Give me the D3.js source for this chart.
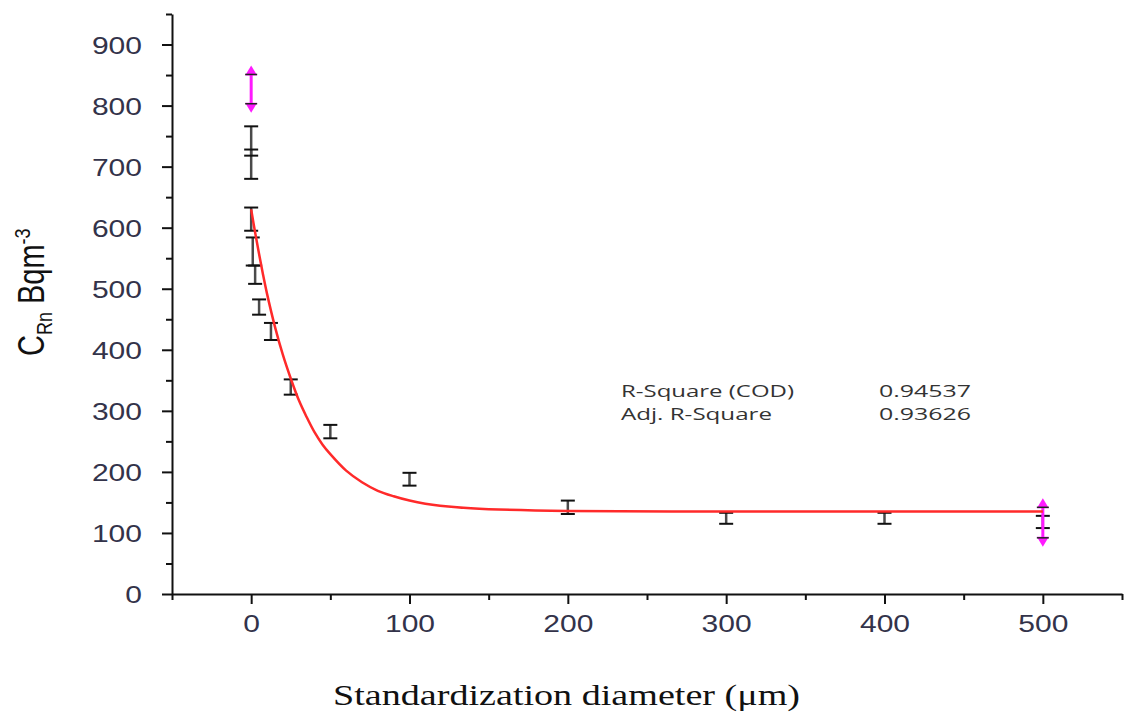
<!DOCTYPE html>
<html>
<head>
<meta charset="utf-8">
<script src="https://cdn.jsdelivr.net/npm/d3@7"></script>
<style>
  body { margin: 0; background: #fff; }
  svg { display: block; }
</style>
</head>
<body>
<svg></svg>
<script>
const width = 1124;
const height = 713;

// measured points, black error bars
const diameter = [0, 0, 0, 1, 2.5, 5, 12.5, 25, 50, 100, 200, 300, 400, 500];
const radon    = [742, 704, 614, 561, 523, 470, 430, 339, 266, 188, 142, 124, 124, 118];
const radonErr = [24, 24, 19, 23, 15, 12.5, 14, 12.5, 11, 10.5, 11, 9, 9, 10];

// masked points (magenta)
const maskedDiameter = [0, 500];
const maskedRadon    = [827, 117];
const maskedErr      = [24, 25];

// fitted curve
const fitX = [0, 2.5, 5, 7.5, 10, 15, 20, 25, 30, 35, 40, 45, 50, 60, 70, 80, 90, 100, 110, 130, 150, 200, 300, 400, 500];
const fitY = [630, 592, 557, 523, 492, 438, 392, 353, 318, 290, 265, 245, 229, 202, 183, 169, 160, 153, 148, 142, 139, 136, 135, 135, 135];

const xTicks = [0, 100, 200, 300, 400, 500];
const xMinor = [-50, 50, 150, 250, 350, 450, 550];
const yTicks = [0, 100, 200, 300, 400, 500, 600, 700, 800, 900];
const yMinor = [50, 150, 250, 350, 450, 550, 650, 750, 850, 950];

const statNames  = ["R-Square (COD)", "Adj. R-Square"];
const statValues = ["0.94537", "0.93626"];

const svg = d3.select("svg")
    .attr("width", width)
    .attr("height", height);

const x = d3.scaleLinear().domain([-50, 550]).range([172, 1122]);
const y = d3.scaleLinear().domain([0, 950]).range([594, 14]);

const tickFont = "'Liberation Sans', Arial, sans-serif";
const charW = 16.7;

// minor ticks
svg.append("g")
    .attr("transform", `translate(0, ${y(0)})`)
    .call(d3.axisBottom(x).tickValues(xMinor).tickSize(6).tickSizeOuter(0).tickFormat(""))
    .call(g => g.select(".domain").remove())
    .call(g => g.selectAll("line").attr("stroke", "#111").attr("stroke-width", 2));

svg.append("g")
    .attr("transform", `translate(${x(-50)}, 0)`)
    .call(d3.axisLeft(y).tickValues(yMinor).tickSize(6).tickSizeOuter(0).tickFormat(""))
    .call(g => g.select(".domain").remove())
    .call(g => g.selectAll("line").attr("stroke", "#111").attr("stroke-width", 2));

// major axes
svg.append("g")
    .attr("transform", `translate(0, ${y(0)})`)
    .call(d3.axisBottom(x).tickValues(xTicks).tickSize(10).tickSizeOuter(0))
    .call(g => g.select(".domain").attr("stroke", "#111").attr("stroke-width", 2))
    .call(g => g.selectAll("line").attr("stroke", "#111").attr("stroke-width", 2))
    .call(g => g.selectAll("text")
        .attr("font-family", tickFont)
        .attr("font-size", 24)
        .attr("fill", "#33334a")
        .attr("text-anchor", "start")
        .attr("dy", 0)
        .attr("y", 38)
        .attr("x", function() { return -this.textContent.length * charW / 2; })
        .attr("textLength", function() { return this.textContent.length * charW; })
        .attr("lengthAdjust", "spacingAndGlyphs"));

svg.append("g")
    .attr("transform", `translate(${x(-50)}, 0)`)
    .call(d3.axisLeft(y).tickValues(yTicks).tickSize(10).tickSizeOuter(0))
    .call(g => g.select(".domain").attr("stroke", "#111").attr("stroke-width", 2))
    .call(g => g.selectAll("line").attr("stroke", "#111").attr("stroke-width", 2))
    .call(g => g.selectAll("text")
        .attr("font-family", tickFont)
        .attr("font-size", 24)
        .attr("fill", "#33334a")
        .attr("text-anchor", "start")
        .attr("dy", "0.36em")
        .attr("x", function() { return -30 - this.textContent.length * charW; })
        .attr("textLength", function() { return this.textContent.length * charW; })
        .attr("lengthAdjust", "spacingAndGlyphs"));

// black error bars
const pts = diameter.map((d, i) => ({ d: d, v: radon[i], e: radonErr[i] }));
const bars = svg.append("g");
bars.selectAll("line.stem")
  .data(pts)
  .join("line")
    .attr("class", "stem")
    .attr("x1", p => x(p.d))
    .attr("x2", p => x(p.d))
    .attr("y1", p => y(p.v - p.e))
    .attr("y2", p => y(p.v + p.e))
    .attr("stroke", "#4a4a4a")
    .attr("stroke-width", 2.5);

bars.selectAll("line.cap")
  .data(pts.flatMap(p => [{ d: p.d, v: p.v - p.e }, { d: p.d, v: p.v + p.e }]))
  .join("line")
    .attr("class", "cap")
    .attr("x1", p => x(p.d) - 7)
    .attr("x2", p => x(p.d) + 7)
    .attr("y1", p => y(p.v))
    .attr("y2", p => y(p.v))
    .attr("stroke", "#111")
    .attr("stroke-width", 2);

// masked points, magenta with arrow heads
const masked = maskedDiameter.map((d, i) => ({ d: d, v: maskedRadon[i], e: maskedErr[i] }));
const mg = svg.append("g");
mg.selectAll("line.mstem")
  .data(masked)
  .join("line")
    .attr("x1", p => x(p.d))
    .attr("x2", p => x(p.d))
    .attr("y1", p => y(p.v - p.e))
    .attr("y2", p => y(p.v + p.e))
    .attr("stroke", "#ff1aff")
    .attr("stroke-width", 3);

mg.selectAll("path.arrow")
  .data(masked.flatMap(p => [{ d: p.d, v: p.v + p.e, dir: -1 }, { d: p.d, v: p.v - p.e, dir: 1 }]))
  .join("path")
    .attr("d", p => {
      const cx = x(p.d), cy = y(p.v);
      return `M${cx - 6},${cy - p.dir * 1}L${cx + 6},${cy - p.dir * 1}L${cx},${cy + p.dir * 9}Z`;
    })
    .attr("fill", "#ff1aff");

mg.selectAll("line.mcap")
  .data(masked.flatMap(p => [{ d: p.d, v: p.v - p.e }, { d: p.d, v: p.v + p.e }]))
  .join("line")
    .attr("x1", p => x(p.d) - 6)
    .attr("x2", p => x(p.d) + 6)
    .attr("y1", p => y(p.v))
    .attr("y2", p => y(p.v))
    .attr("stroke", "#222")
    .attr("stroke-width", 1.5);

// fit curve
const fitLine = d3.line()
    .x((d, i) => x(fitX[i]))
    .y(d => y(d))
    .curve(d3.curveCatmullRom.alpha(0.5));

svg.append("path")
    .datum(fitY)
    .attr("d", fitLine)
    .attr("fill", "none")
    .attr("stroke", "#ff2a2a")
    .attr("stroke-width", 2.5);

// statistics
const statLen = [173, 151];
statNames.forEach((name, i) => {
  svg.append("text")
      .attr("x", 621)
      .attr("y", 397 + i * 23)
      .attr("font-family", "'Open Sans', sans-serif")
      .attr("font-size", 16)
      .attr("font-weight", 500)
      .attr("fill", "#333")
      .attr("textLength", statLen[i])
      .attr("lengthAdjust", "spacingAndGlyphs")
      .text(name);
  svg.append("text")
      .attr("x", 879)
      .attr("y", 397 + i * 23)
      .attr("font-family", "'Open Sans', sans-serif")
      .attr("font-size", 16)
      .attr("font-weight", 500)
      .attr("fill", "#333")
      .attr("textLength", 92)
      .attr("lengthAdjust", "spacingAndGlyphs")
      .text(statValues[i]);
});

// axis titles
svg.append("text")
    .attr("x", 333)
    .attr("y", 705)
    .attr("font-family", "'Liberation Serif', 'Times New Roman', serif")
    .attr("font-size", 30)
    .attr("fill", "#111")
    .attr("textLength", 467)
    .attr("lengthAdjust", "spacingAndGlyphs")
    .text("Standardization diameter (\u03bcm)");

const yTitle = svg.append("text")
    .attr("transform", "translate(44, 356) scale(1.25, 1) rotate(-90)")
    .attr("font-family", tickFont)
    .attr("font-size", 29)
    .attr("fill", "#111");
yTitle.append("tspan").text("C");
yTitle.append("tspan").attr("font-size", 18).attr("dy", 6).text("Rn");
yTitle.append("tspan").attr("dy", -6).text(" Bqm");
yTitle.append("tspan").attr("font-size", 18).attr("dy", -11).text("-3");
</script>
</body>
</html>
